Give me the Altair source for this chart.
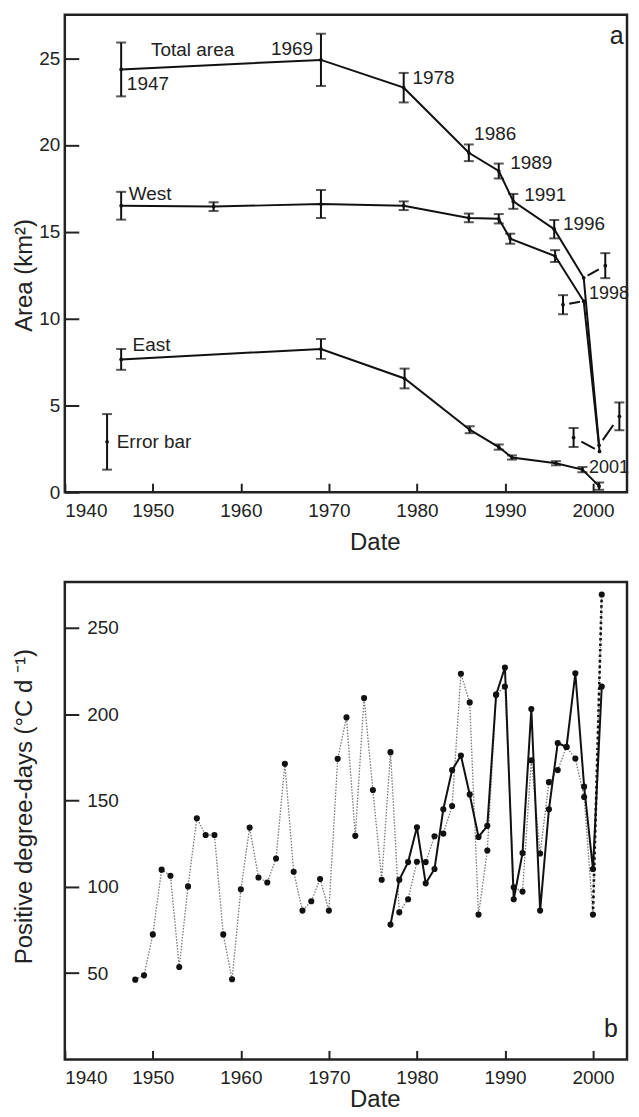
import altair as alt
import pandas as pd

FONT = "Liberation Sans"
INK = "#222222"

# ---------------- Panel a: glacier area (km2) ----------------
total_year = [1946.4, 1969.1, 1978.5, 1985.9, 1989.3, 1990.95, 1995.6, 1998.95, 2000.7]
total_area = [24.35, 24.9, 23.3, 19.55, 18.5, 16.75, 15.15, 12.35, 2.7]
total_err = [1.55, 1.5, 0.85, 0.48, 0.43, 0.43, 0.53, 0.0, 0.0]

west_year = [1946.4, 1956.9, 1969.1, 1978.5, 1985.9, 1989.3, 1990.6, 1995.7, 1998.95, 2000.75]
west_area = [16.5, 16.45, 16.6, 16.5, 15.8, 15.75, 14.6, 13.6, 11.0, 2.35]
west_err = [0.8, 0.25, 0.8, 0.25, 0.25, 0.27, 0.29, 0.34, 0.0, 0.0]

east_year = [1946.4, 1969.1, 1978.6, 1986.0, 1989.3, 1990.8, 1995.8, 1998.8, 2000.7]
east_area = [7.65, 8.25, 6.55, 3.6, 2.6, 2.0, 1.67, 1.3, 0.35]
east_err = [0.6, 0.57, 0.57, 0.2, 0.15, 0.12, 0.12, 0.15, 0.21]

# error bars drawn beside crowded points, and the point each belongs to
side_year = [2001.4, 1996.6, 2003.0, 1997.8]
side_area = [13.05, 10.8, 4.37, 3.15]
side_err = [0.72, 0.55, 0.8, 0.55]
side_from_year = [1998.95, 1998.95, 2000.7, 2000.75]
side_from_area = [12.35, 11.0, 2.7, 2.35]

# "Error bar" key
key_year = [1944.8]
key_area = [2.9]
key_err = [1.6]

label_text = ["Total area", "1947", "1978", "1986", "1989", "1991", "1996",
              "West", "East", "Error bar"]
label_year = [1949.8, 1947.05, 1979.5, 1986.5, 1990.6, 1992.2, 1996.6,
              1947.25, 1947.7, 1945.9]
label_area = [25.44, 23.49, 23.87, 20.63, 18.97, 17.11, 15.42,
              17.18, 8.48, 2.9]
label_edge_text = ["1998", "2001"]
label_edge_year = [1999.55, 1999.55]
label_edge_area = [11.4, 1.4]
label_right_text = ["1969"]
label_right_year = [1968.2]
label_right_area = [25.5]

# ---------------- Panel b: positive degree-days ----------------
pdd_year_a = list(range(1948, 2002))
pdd_a = [46.2, 48.7, 72.4, 109.9, 106.4, 53.5, 100.2, 139.7, 130, 130,
         72.4, 46.4, 98.5, 134.3, 105.4, 102.5, 116.4, 171.2, 108.7, 86.2,
         91.6, 104.5, 86.2, 174.1, 198.1, 129.5, 209.3, 156, 104.1, 178,
         85.2, 92.8, 114.5, 114.3, 129.3, 130.8, 146.8, 223.4, 206.8, 83.9,
         121, 211.3, 216, 99.7, 97.2, 173.2, 119.3, 160.6, 167.6, 181,
         174.3, 152, 83.9, 269.3]
pdd_year_b = list(range(1977, 2002))
pdd_b = [78.1, 104.1, 114.3, 134.5, 102, 110.3, 144.9, 167.6, 176, 153.5,
         128.9, 135.3, 211.3, 227, 92.8, 119.5, 203, 86.2, 144.9, 183.3,
         181, 223.7, 158, 110.3, 216]

x_ticks = [1940, 1950, 1960, 1970, 1980, 1990, 2000]
ya_ticks = [0, 5, 10, 15, 20, 25]
yb_ticks = [50, 100, 150, 200, 250]

W, H = 564, 479
xs = alt.Scale(domain=[1940, 2003.87], nice=False, zero=False)
ysa = alt.Scale(domain=[0, 27.5], nice=False, zero=False)
ysb = alt.Scale(domain=[0, 276.6], nice=False, zero=False)


def x_label_axis(title_y):
    return alt.Axis(orient="bottom", values=x_ticks, format="d", ticks=False, tickSize=0,
                    domain=False, grid=False, labelFontSize=19, labelPadding=9,
                    labelColor=INK, title="Date", titleFontSize=24,
                    titleFontWeight="normal", titleColor=INK, titleX=311, titleY=title_y,
                    titleBaseline="middle", titleAlign="center")


def x_tick_axis():
    # inward ticks: a bottom axis lifted into the plot by its own tick length
    return alt.Axis(orient="bottom", offset=-9, values=x_ticks, labels=False, ticks=True,
                    tickSize=9, tickWidth=2, tickColor=INK, domain=False, grid=False,
                    title=None)


def y_tick_axis(vals):
    return alt.Axis(orient="left", offset=-14, values=vals, labels=False, ticks=True,
                    tickSize=14, tickWidth=2, tickColor=INK, domain=False, grid=False,
                    title=None)


# ---------- build panel a ----------
rows = []
for name, yrs, vals in [("Total", total_year, total_area), ("West", west_year, west_area),
                        ("East", east_year, east_area)]:
    for i, (x, v) in enumerate(zip(yrs, vals)):
        rows.append({"series": name, "i": i, "year": x, "area": v})
lines_df = pd.DataFrame(rows)

err_rows = []
for yrs, vals, errs in [(total_year, total_area, total_err), (west_year, west_area, west_err),
                        (east_year, east_area, east_err), (side_year, side_area, side_err),
                        (key_year, key_area, key_err)]:
    for x, v, e in zip(yrs, vals, errs):
        if e > 0:
            err_rows.append({"year": x, "lo": v - e, "hi": v + e})
err_df = pd.DataFrame(err_rows)
caps_df = pd.concat([err_df[["year"]].assign(area=err_df["lo"]),
                     err_df[["year"]].assign(area=err_df["hi"])])

pts_df = pd.concat([lines_df[["year", "area"]],
                    pd.DataFrame({"year": side_year + key_year, "area": side_area + key_area})])

lead_rows = []
for fx, fy, tx, ty in zip(side_from_year, side_from_area, side_year, side_area):
    lead_rows.append({"x": fx + 0.18 * (tx - fx), "y": fy + 0.18 * (ty - fy),
                      "x2": fx + 0.7 * (tx - fx), "y2": fy + 0.7 * (ty - fy)})
lead_df = pd.DataFrame(lead_rows)

lab_df = pd.DataFrame({"label": label_text, "year": label_year, "area": label_area})
lab_e_df = pd.DataFrame({"label": label_edge_text, "year": label_edge_year,
                         "area": label_edge_area})
lab_r_df = pd.DataFrame({"label": label_right_text, "year": label_right_year,
                         "area": label_right_area})
tag_a = pd.DataFrame({"label": ["a"], "year": [2002.7], "area": [26.3]})

xa_none = alt.X("year:Q", scale=xs, axis=None)
ya_none = alt.Y("area:Q", scale=ysa, axis=None)

a_lines = alt.Chart(lines_df).mark_line(color="#111111", strokeWidth=2).encode(
    x=alt.X("year:Q", scale=xs, axis=x_label_axis(50)),
    y=alt.Y("area:Q", scale=ysa,
            axis=alt.Axis(orient="left", values=ya_ticks, ticks=False, tickSize=0,
                          domain=False, grid=False, labelFontSize=19, labelPadding=5,
                          labelColor=INK, title="Area (km²)", titleFontSize=24,
                          titleFontWeight="normal", titleColor=INK, titleX=-28,
                          titleY=261, titleBaseline="bottom", titleAlign="center")),
    detail="series:N", order="i:Q")

a_rules = alt.Chart(err_df).mark_rule(color="#111111", strokeWidth=2).encode(
    x=alt.X("year:Q", scale=xs, axis=x_tick_axis()),
    y=alt.Y("lo:Q", scale=ysa, axis=y_tick_axis(ya_ticks)),
    y2="hi:Q")

a_caps = alt.Chart(caps_df).mark_tick(orient="horizontal", size=10, thickness=2,
                                      color="#111111").encode(x=xa_none, y=ya_none)

a_pts = alt.Chart(pts_df).mark_circle(size=14, color="#111111", opacity=1).encode(
    x=xa_none, y=ya_none)

a_lead = alt.Chart(lead_df).mark_rule(color="#111111", strokeWidth=2).encode(
    x=alt.X("x:Q", scale=xs, axis=None), y=alt.Y("y:Q", scale=ysa, axis=None),
    x2="x2:Q", y2="y2:Q")

a_text = alt.Chart(lab_df).mark_text(align="left", baseline="middle", fontSize=19,
                                     color=INK).encode(x=xa_none, y=ya_none, text="label:N")
a_text_e = alt.Chart(lab_e_df).mark_text(align="left", baseline="middle", fontSize=18,
                                         color=INK).encode(x=xa_none, y=ya_none, text="label:N")
a_text_r = alt.Chart(lab_r_df).mark_text(align="right", baseline="middle", fontSize=19,
                                         color=INK).encode(x=xa_none, y=ya_none, text="label:N")
a_tag = alt.Chart(tag_a).mark_text(align="center", baseline="middle", fontSize=25,
                                   color=INK).encode(x=xa_none, y=ya_none, text="label:N")

panel_a = alt.layer(a_lines, a_rules, a_caps, a_lead, a_pts, a_text, a_text_e, a_text_r,
                    a_tag).resolve_axis(x="independent", y="independent").properties(
    width=W, height=H)

# ---------- build panel b ----------
dot_df = pd.DataFrame({"year": pdd_year_a, "pdd": pdd_a})
solid_df = pd.DataFrame({"year": pdd_year_b, "pdd": pdd_b})
last_df = dot_df.tail(2)
tag_b = pd.DataFrame({"label": ["b"], "year": [2002.05], "pdd": [17.5]})

xb_none = alt.X("year:Q", scale=xs, axis=None)
yb_none = alt.Y("pdd:Q", scale=ysb, axis=None)

b_dot = alt.Chart(dot_df).mark_line(color="#777777", strokeWidth=1.3,
                                    strokeDash=[1.5, 1.5]).encode(
    x=alt.X("year:Q", scale=xs, axis=x_label_axis(40)),
    y=alt.Y("pdd:Q", scale=ysb,
            axis=alt.Axis(orient="left", labels=False, ticks=False, domain=False,
                          grid=False, title="Positive degree-days (°C d ⁻¹)",
                          titleFontSize=24, titleFontWeight="normal", titleColor=INK,
                          titleX=-28, titleY=225, titleBaseline="bottom",
                          titleAlign="center")))

b_last = alt.Chart(last_df).mark_line(color="#111111", strokeWidth=2.6,
                                      strokeDash=[2.5, 3]).encode(x=xb_none, y=yb_none)

b_solid = alt.Chart(solid_df).mark_line(color="#111111", strokeWidth=2).encode(
    x=alt.X("year:Q", scale=xs, axis=x_tick_axis()),
    y=alt.Y("pdd:Q", scale=ysb, axis=y_tick_axis(yb_ticks)))

b_dot_pts = alt.Chart(dot_df).mark_circle(size=38, color="#111111", opacity=1).encode(
    x=xb_none,
    y=alt.Y("pdd:Q", scale=ysb,
            axis=alt.Axis(orient="left", offset=-22, values=yb_ticks, ticks=False,
                          tickSize=0, domain=False, grid=False, labelAlign="left",
                          labelPadding=0, labelFontSize=19, labelColor=INK, title=None)))
b_solid_pts = alt.Chart(solid_df).mark_circle(size=38, color="#111111", opacity=1).encode(
    x=xb_none, y=yb_none)
b_tag = alt.Chart(tag_b).mark_text(align="center", baseline="middle", fontSize=25,
                                   color=INK).encode(x=xb_none, y=yb_none, text="label:N")

panel_b = alt.layer(b_dot, b_last, b_solid, b_dot_pts, b_solid_pts, b_tag).resolve_axis(
    x="independent", y="independent").properties(width=W, height=H)

chart = alt.vconcat(panel_a, panel_b, spacing=24).properties(
    padding={"left": 3, "top": 3, "right": 0, "bottom": -3}
).configure_view(stroke=INK, strokeWidth=2.5).configure_axis(
    labelFont=FONT, titleFont=FONT).configure_text(font=FONT)

chart.save("out.html", embed_options={"renderer": "svg", "actions": False})
